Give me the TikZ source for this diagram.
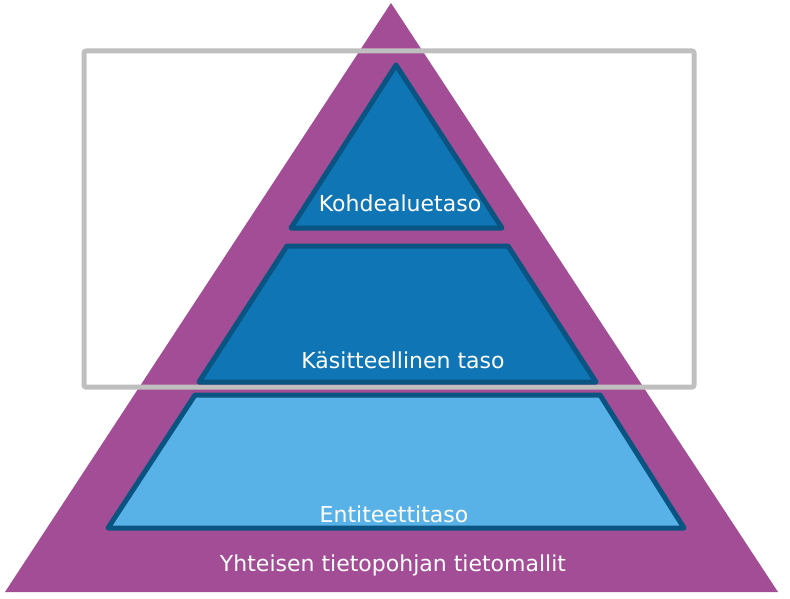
\documentclass[tikz,border=0pt]{standalone}
\usepackage{fontspec}
\setmainfont{DejaVu Sans}
\definecolor{pyramid}{RGB}{163,77,150}
\definecolor{midblue}{RGB}{16,117,180}
\definecolor{lightblue}{RGB}{88,178,232}
\definecolor{edgeblue}{RGB}{10,84,130}
\definecolor{frame}{RGB}{191,191,191}
\begin{document}
\begin{tikzpicture}[x=1pt,y=-1pt]
    \tikzstyle{layer}=[draw=edgeblue,line width=5pt,line join=round]
    \tikzstyle{upper layer}=[layer,fill=midblue]
    \tikzstyle{lower layer}=[layer,fill=lightblue]
    \tikzstyle{label}=[text=white,font=\fontsize{22}{26}\selectfont,inner sep=0pt]

    \useasboundingbox (0,0) rectangle (790,599);

    % Draw the big pyramid
    \fill[pyramid] (391,3) -- (5,592) -- (778,592) -- cycle;

    % Draw the frame round the two upper layers
    \draw[frame,line width=5pt,rounded corners=2pt] (84,51) rectangle (694,387);

    % Draw the three layers
    \draw[upper layer] (396,65) -- (291,228) -- (502,228) -- cycle;
    \draw[upper layer] (287,246) -- (199,382) -- (596,382) -- (508,246) -- cycle;
    \draw[lower layer] (195,395) -- (108,528) -- (684,528) -- (600,395) -- cycle;

    % Annotate the layers
    \node[label] (domain) at (400,203) {Kohdealuetaso};
    \node[label] (concept) at (403,360) {Käsitteellinen taso};
    \node[label] (entity) at (394,514) {Entiteettitaso};
    \node[label] (common) at (393,565) {Yhteisen tietopohjan tietomallit};
\end{tikzpicture}
\end{document}
